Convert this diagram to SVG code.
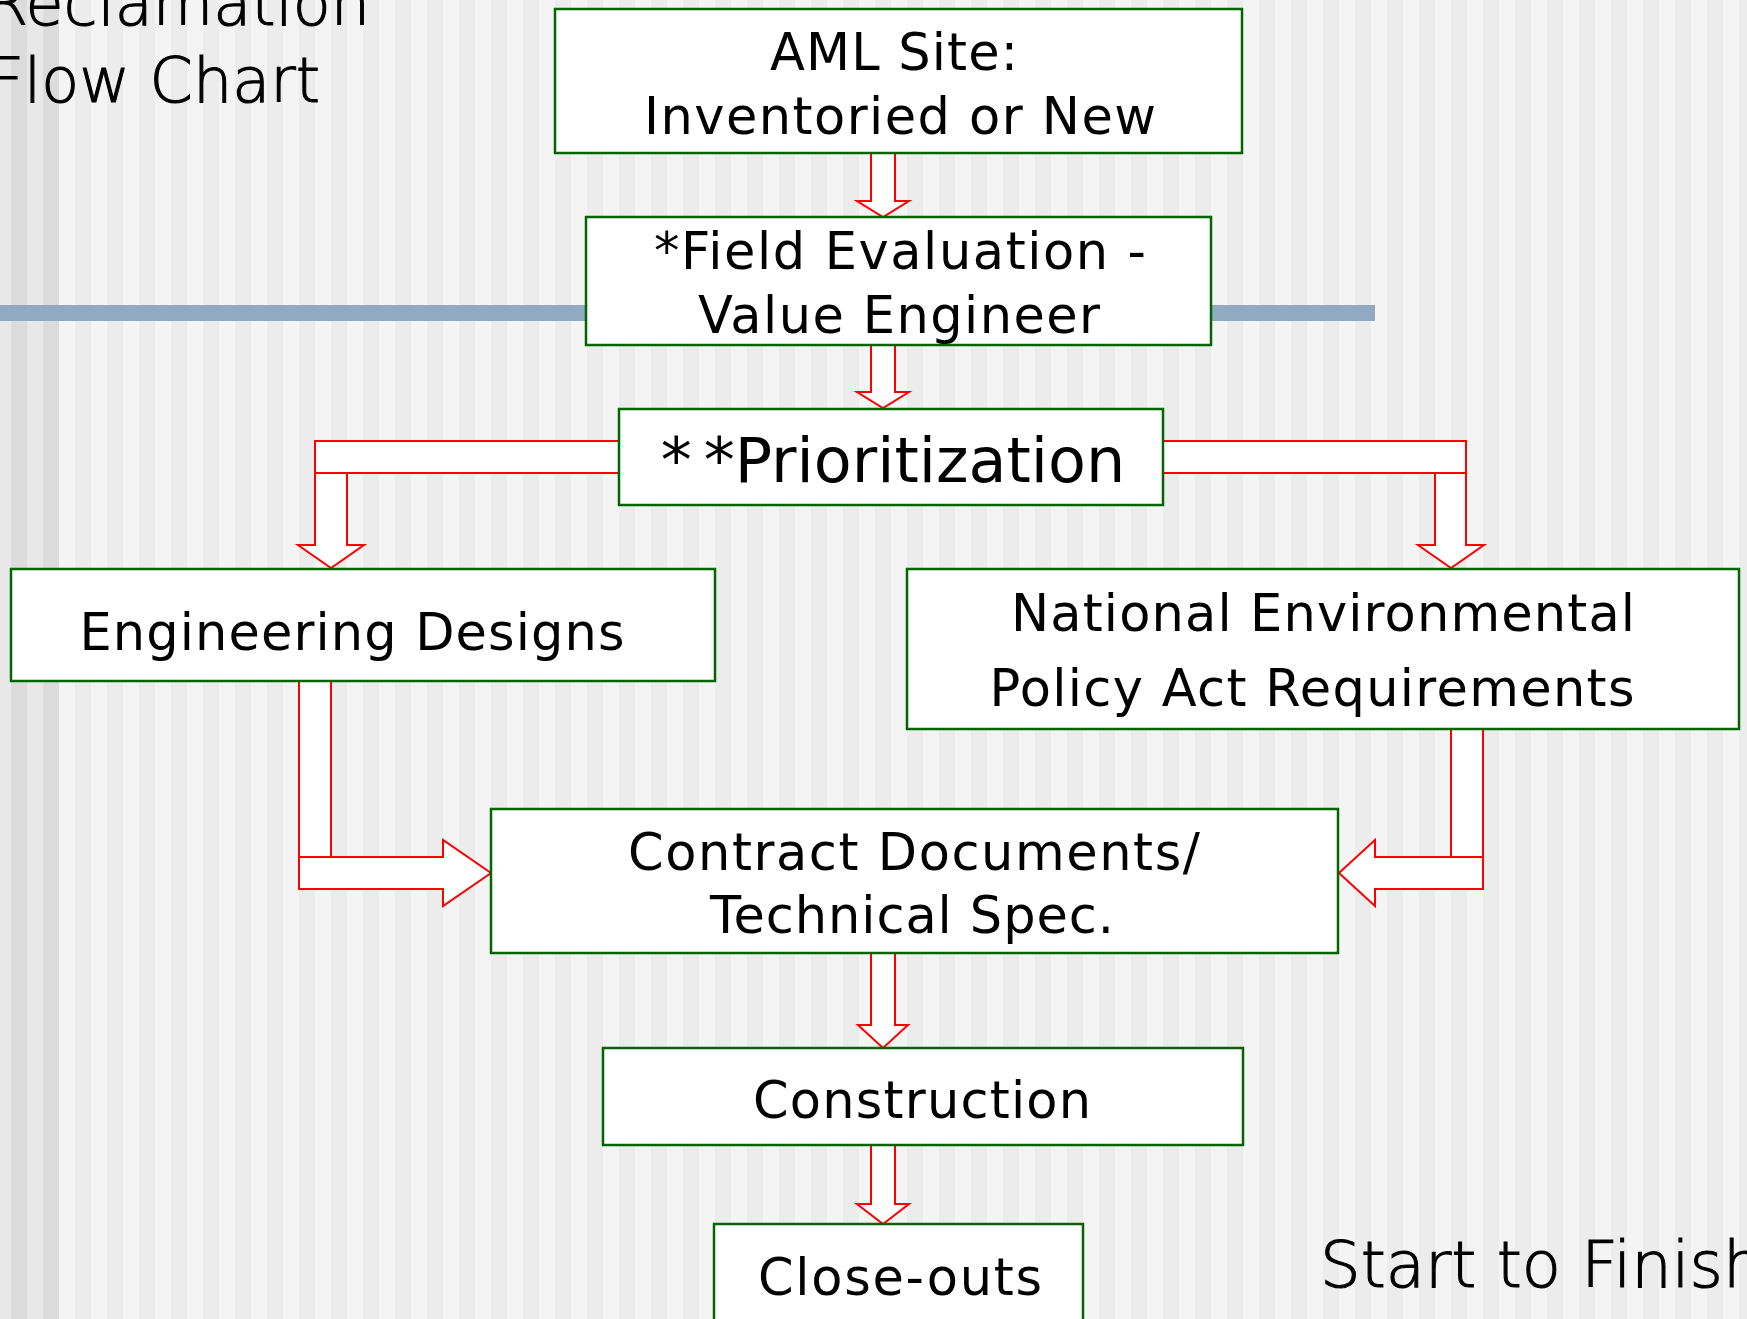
<svg xmlns="http://www.w3.org/2000/svg" width="1747" height="1319" viewBox="0 0 1747 1319">
  <defs>
    <pattern id="stripes" x="11" y="0" width="32" height="10" patternUnits="userSpaceOnUse">
      <rect x="0" y="0" width="16" height="10" fill="#ececec"/>
      <rect x="16" y="0" width="16" height="10" fill="#f4f4f4"/>
    </pattern>
    <pattern id="stripesDark" x="11" y="0" width="32" height="10" patternUnits="userSpaceOnUse">
      <rect x="0" y="0" width="16" height="10" fill="#dcdcdc"/>
      <rect x="16" y="0" width="16" height="10" fill="#e8e8e8"/>
    </pattern>
  </defs>
  <style>
    .box { fill: #ffffff; stroke: #006600; stroke-width: 2.5; }
    .conn { fill: #ffffff; stroke: #ff0000; stroke-width: 2; stroke-linejoin: miter; }
    .lbl { font-family: "DejaVu Sans", Verdana, sans-serif; font-size: 51px; fill: #000000; text-anchor: middle; }
    .big { font-size: 62px; }
    .title { font-family: "DejaVu Sans", Verdana, sans-serif; font-weight: 300; fill: #000000; stroke: #000000; stroke-width: 1.1; }
  </style>

  <g id="background">
    <rect x="0" y="0" width="1747" height="1319" fill="url(#stripes)"/>
    <rect x="0" y="0" width="59" height="1319" fill="url(#stripesDark)"/>
    <rect x="0" y="305" width="1375" height="16" fill="#91aac4"/>
  </g>

  <g id="titles">
    <text class="title" x="370" y="25" font-size="62" text-anchor="end">Reclamation</text>
    <text class="title" x="320" y="102" font-size="62" text-anchor="end">Flow Chart</text>
    <text class="title" x="1320" y="1287" font-size="64">Start to Finish</text>
  </g>

  <g id="connectors">
    <!-- AML -> Field Evaluation -->
    <polygon class="conn" points="871,153 895,153 895,201 909,201 883,217 857,201 871,201"/>
    <!-- Field Evaluation -> Prioritization -->
    <polygon class="conn" points="871,345 895,345 895,392 909,392 883,408 857,392 871,392"/>
    <!-- Prioritization -> Engineering Designs -->
    <rect class="conn" x="315" y="441" width="304" height="32"/>
    <polygon class="conn" points="315,473 315,545 298,545 331,568 364,545 347,545 347,473"/>
    <!-- Prioritization -> NEPA -->
    <rect class="conn" x="1163" y="441" width="303" height="32"/>
    <polygon class="conn" points="1435,473 1435,545 1418,545 1451,568 1484,545 1466,545 1466,473"/>
    <!-- Engineering Designs -> Contract -->
    <rect class="conn" x="299" y="681" width="32" height="176"/>
    <polygon class="conn" points="299,857 443,857 443,840 491,873 443,906 443,889 299,889"/>
    <!-- NEPA -> Contract -->
    <rect class="conn" x="1451" y="729" width="32" height="128"/>
    <polygon class="conn" points="1483,857 1375,857 1375,840 1339,873 1375,906 1375,889 1483,889"/>
    <!-- Contract -> Construction -->
    <polygon class="conn" points="871,953 895,953 895,1025 908,1025 883,1048 858,1025 871,1025"/>
    <!-- Construction -> Close-outs -->
    <polygon class="conn" points="871,1145 895,1145 895,1204 909,1204 883,1224 857,1204 871,1204"/>
  </g>

  <g id="node-aml">
    <rect class="box" x="555" y="9" width="687" height="144"/>
    <text class="lbl" x="894" y="70" textLength="248" lengthAdjust="spacing">AML Site:</text>
    <text class="lbl" x="900" y="134" textLength="512" lengthAdjust="spacing">Inventoried or New</text>
  </g>

  <g id="node-field">
    <rect class="box" x="586" y="217" width="625" height="128"/>
    <text class="lbl" x="900" y="269" textLength="492" lengthAdjust="spacing">*Field Evaluation -</text>
    <text class="lbl" x="899" y="333" textLength="402" lengthAdjust="spacing">Value Engineer</text>
  </g>

  <g id="node-prioritization">
    <rect class="box" x="619" y="409" width="544" height="96"/>
    <text class="lbl big" x="893" y="482">*<tspan dx="12">*</tspan>Prioritization</text>
  </g>

  <g id="node-engineering">
    <rect class="box" x="11" y="569" width="704" height="112"/>
    <text class="lbl" x="352" y="650" textLength="545" lengthAdjust="spacing">Engineering Designs</text>
  </g>

  <g id="node-nepa">
    <rect class="box" x="907" y="569" width="832" height="160"/>
    <text class="lbl" x="1323" y="631" textLength="624" lengthAdjust="spacing">National Environmental</text>
    <text class="lbl" x="1312" y="706" textLength="645" lengthAdjust="spacing">Policy Act Requirements</text>
  </g>

  <g id="node-contract">
    <rect class="box" x="491" y="809" width="847" height="144"/>
    <text class="lbl" x="914" y="870" textLength="572" lengthAdjust="spacing">Contract Documents/</text>
    <text class="lbl" x="912" y="933" textLength="404" lengthAdjust="spacing">Technical Spec.</text>
  </g>

  <g id="node-construction">
    <rect class="box" x="603" y="1048" width="640" height="97"/>
    <text class="lbl" x="922" y="1118" textLength="338" lengthAdjust="spacing">Construction</text>
  </g>

  <g id="node-closeouts">
    <rect class="box" x="714" y="1224" width="369" height="120"/>
    <text class="lbl" x="900" y="1295" textLength="284" lengthAdjust="spacing">Close-outs</text>
  </g>
</svg>
